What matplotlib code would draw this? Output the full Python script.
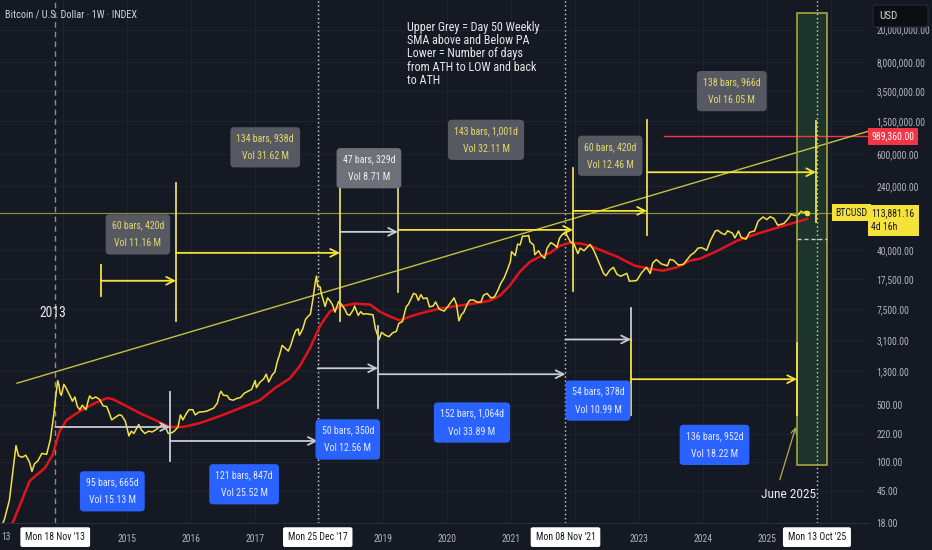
import pandas as pd
import matplotlib
matplotlib.use('Agg')
from matplotlib import pyplot as plt
from matplotlib import font_manager
from matplotlib.patches import Rectangle, FancyBboxPatch
from matplotlib.ticker import NullLocator
from matplotlib.transforms import blended_transform_factory

# weekly close (log scale)
price_dates = [
    '2013-01-01', '2013-02-01', '2013-03-01', '2013-03-25', '2013-04-08', '2013-04-22', '2013-05-13',
    '2013-06-03', '2013-06-24', '2013-07-08', '2013-07-22', '2013-08-12', '2013-09-02', '2013-09-30',
    '2013-10-21', '2013-11-11', '2013-11-18', '2013-12-02', '2013-12-09', '2013-12-16', '2013-12-23',
    '2014-01-06', '2014-01-20', '2014-02-10', '2014-02-24', '2014-03-10', '2014-03-24', '2014-04-07',
    '2014-04-21', '2014-05-12', '2014-05-26', '2014-06-02', '2014-06-16', '2014-07-07', '2014-07-28',
    '2014-08-18', '2014-09-08', '2014-09-22', '2014-10-06', '2014-10-27', '2014-11-17', '2014-12-01',
    '2014-12-22', '2015-01-12', '2015-01-26', '2015-02-09', '2015-02-23', '2015-03-09', '2015-03-23',
    '2015-04-13', '2015-05-04', '2015-05-25', '2015-06-15', '2015-07-06', '2015-07-20', '2015-08-10',
    '2015-08-24', '2015-09-14', '2015-09-28', '2015-10-19', '2015-11-02', '2015-11-16', '2015-12-07',
    '2015-12-21', '2016-01-11', '2016-01-25', '2016-02-15', '2016-03-07', '2016-03-28', '2016-04-18',
    '2016-05-09', '2016-05-30', '2016-06-13', '2016-06-20', '2016-07-04', '2016-07-25', '2016-08-08',
    '2016-08-29', '2016-09-19', '2016-10-10', '2016-10-31', '2016-11-21', '2016-12-12', '2016-12-26',
    '2017-01-02', '2017-01-09', '2017-01-30', '2017-02-20', '2017-03-06', '2017-03-20', '2017-04-10',
    '2017-04-24', '2017-05-08', '2017-05-22', '2017-06-05', '2017-06-26', '2017-07-10', '2017-07-24',
    '2017-08-07', '2017-08-21', '2017-09-04', '2017-09-11', '2017-09-18', '2017-10-02', '2017-10-16',
    '2017-10-30', '2017-11-13', '2017-11-27', '2017-12-11', '2017-12-18', '2017-12-25', '2018-01-08',
    '2018-01-15', '2018-02-05', '2018-02-19', '2018-03-05', '2018-03-19', '2018-04-02', '2018-04-23',
    '2018-05-07', '2018-05-28', '2018-06-11', '2018-06-25', '2018-07-16', '2018-07-23', '2018-08-13',
    '2018-08-27', '2018-09-10', '2018-09-24', '2018-10-15', '2018-11-05', '2018-11-19', '2018-12-10',
    '2018-12-24', '2019-01-14', '2019-02-04', '2019-02-25', '2019-03-18', '2019-04-01', '2019-04-22',
    '2019-05-13', '2019-05-27', '2019-06-17', '2019-06-24', '2019-07-08', '2019-07-22', '2019-08-05',
    '2019-08-19', '2019-09-09', '2019-09-23', '2019-10-14', '2019-10-28', '2019-11-18', '2019-12-16',
    '2020-01-06', '2020-01-27', '2020-02-10', '2020-02-24', '2020-03-09', '2020-03-23', '2020-04-06',
    '2020-04-27', '2020-05-11', '2020-06-01', '2020-06-22', '2020-07-13', '2020-07-27', '2020-08-17',
    '2020-09-07', '2020-09-28', '2020-10-19', '2020-11-02', '2020-11-23', '2020-12-14', '2020-12-28',
    '2021-01-04', '2021-01-25', '2021-02-08', '2021-02-22', '2021-03-08', '2021-03-29', '2021-04-12',
    '2021-04-19', '2021-05-10', '2021-05-17', '2021-06-07', '2021-06-21', '2021-07-12', '2021-07-26',
    '2021-08-16', '2021-09-06', '2021-09-20', '2021-10-04', '2021-10-18', '2021-11-01', '2021-11-08',
    '2021-11-22', '2021-12-06', '2021-12-27', '2022-01-17', '2022-01-31', '2022-02-21', '2022-03-28',
    '2022-04-18', '2022-05-09', '2022-06-13', '2022-06-27', '2022-07-18', '2022-08-08', '2022-08-29',
    '2022-09-19', '2022-10-24', '2022-11-07', '2022-12-19', '2023-01-16', '2023-02-13', '2023-03-06',
    '2023-03-20', '2023-04-10', '2023-05-08', '2023-06-12', '2023-06-26', '2023-07-17', '2023-08-14',
    '2023-09-11', '2023-10-23', '2023-11-13', '2023-12-04', '2023-12-25', '2024-01-22', '2024-02-12',
    '2024-03-11', '2024-03-25', '2024-04-15', '2024-05-06', '2024-05-20', '2024-06-17', '2024-07-01',
    '2024-07-22', '2024-08-05', '2024-09-02', '2024-09-23', '2024-10-21', '2024-11-11', '2024-12-09',
    '2024-12-30', '2025-01-20', '2025-02-10', '2025-03-03', '2025-03-24', '2025-04-07', '2025-04-28',
    '2025-05-19', '2025-06-09', '2025-06-30', '2025-07-14', '2025-07-28', '2025-08-11', '2025-08-18',
]
price_close = [
    13.5, 20, 34, 90, 160, 120, 115,
    122, 100, 77, 95, 105, 128, 125,
    190, 400, 570, 1000, 880, 700, 660,
    900, 800, 650, 560, 630, 480, 440,
    500, 440, 580, 650, 600, 630, 590,
    490, 480, 400, 330, 355, 380, 375,
    320, 210, 240, 225, 255, 290, 250,
    225, 240, 235, 250, 270, 290, 265,
    225, 230, 240, 270, 380, 330, 400,
    440, 440, 380, 410, 415, 420, 440,
    460, 530, 690, 740, 660, 655, 590,
    575, 605, 620, 700, 740, 780, 930,
    1000, 820, 960, 1050, 1200, 960, 1180,
    1270, 1700, 2100, 2700, 2450, 2300, 2700,
    3400, 4100, 4300, 3600, 3800, 4400, 5600,
    6100, 6500, 9800, 16000, 19100, 14200, 14000,
    11500, 8100, 10300, 9500, 8500, 6900, 9300,
    8700, 7500, 6500, 6300, 7400, 8200, 6300,
    7000, 6500, 6600, 6500, 6400, 4300, 3200,
    3900, 3600, 3450, 3850, 4000, 5000, 5300,
    8000, 8700, 10800, 11700, 11400, 9600, 11300,
    10100, 10300, 8000, 8200, 9200, 7500, 7100,
    8100, 9350, 10300, 8600, 5400, 6400, 6900,
    8800, 9700, 9700, 9100, 9200, 11100, 11700,
    10300, 10600, 13000, 15400, 18300, 23800, 29000,
    38000, 34000, 47000, 46000, 59000, 58800, 60000,
    50000, 46000, 34800, 39000, 34500, 31500, 42000,
    49000, 46000, 43000, 55000, 61000, 63000, 65500,
    57000, 50000, 47000, 36000, 42000, 39000, 46500,
    39500, 31000, 20500, 19300, 22500, 24400, 20000,
    19000, 20600, 16500, 16800, 21000, 24500, 20500,
    27500, 30400, 26900, 25500, 30500, 29800, 26000,
    26500, 34500, 37000, 42000, 42500, 39500, 52000,
    68000, 69500, 64000, 61500, 68500, 64000, 56000,
    68000, 57000, 54000, 65500, 68000, 90000, 101000,
    94000, 102000, 96500, 80000, 82500, 84000, 94000,
    109000, 105000, 108000, 119000, 114000, 118000, 113881,
]

# 50 week SMA (red)
sma_dates = [
    '2013-03-15', '2013-05-01', '2013-06-25', '2013-09-20', '2013-11-03', '2013-12-13', '2014-01-22',
    '2014-04-08', '2014-07-02', '2014-09-09', '2014-10-12', '2014-12-20', '2015-03-14', '2015-06-10',
    '2015-09-02', '2015-11-17', '2016-02-21', '2016-06-13', '2016-10-08', '2017-01-30', '2017-04-24',
    '2017-07-20', '2017-09-13', '2017-11-10', '2018-01-08', '2018-03-04', '2018-05-01', '2018-07-24',
    '2018-10-20', '2018-12-13', '2019-02-10', '2019-04-09', '2019-06-03', '2019-07-31', '2019-11-21',
    '2020-03-14', '2020-07-09', '2020-09-02', '2020-10-30', '2020-12-24', '2021-02-21', '2021-04-20',
    '2021-06-13', '2021-08-11', '2021-10-08', '2021-12-02', '2022-01-30', '2022-03-25', '2022-06-21',
    '2022-08-29', '2022-12-09', '2023-03-04', '2023-05-19', '2023-08-08', '2023-10-19', '2023-12-13',
    '2024-03-20', '2024-07-12', '2024-11-03', '2025-03-15', '2025-08-18',
]
sma_vals = [
    17, 30, 59, 85, 123, 241, 329,
    423, 530, 610, 593, 500, 400, 329,
    270, 270, 302, 367, 460, 576, 807,
    1070, 1500, 2480, 4730, 7010, 8070, 8780,
    8530, 7010, 6090, 5450, 6090, 6640, 7630,
    8300, 9030, 9550, 11000, 14550, 21600, 28600,
    32900, 36500, 44800, 48700, 47800, 45000, 37800,
    33000, 25500, 23400, 22200, 24500, 29500, 31000,
    38500, 51500, 62700, 76300, 95500,
]

ytick_vals = [18, 45, 100, 220, 500, 1300, 3100, 7500, 17500, 40000,
              240000, 600000, 1500000, 3500000, 8000000, 20000000]
year_ticks = list(range(2014, 2027))
year_labels = ['', '2015', '2016', '2017', '', '2019', '2020', '2021', '', '2023', '2024', '2025', '']
last_price = 113881.16
target_price = 989360.00

# grey (upper) and blue (lower) range labels: (text, x, y)
grey_labels = [
    ('60 bars, 420d\nVol 11.16 M', 2015.17, 61800),
    ('134 bars, 938d\nVol 31.62 M', 2017.16, 721000),
    ('47 bars, 329d\nVol 8.71 M', 2018.78, 400000),
    ('143 bars, 1,001d\nVol 32.11 M', 2020.61, 891000),
    ('60 bars, 420d\nVol 12.46 M', 2022.55, 568000),
    ('138 bars, 966d\nVol 16.05 M', 2024.45, 3520000),
]
blue_labels = [
    ('95 bars, 665d\nVol 15.13 M', 2014.77, 44),
    ('121 bars, 847d\nVol 25.52 M', 2016.83, 53.7),
    ('50 bars, 350d\nVol 12.56 M', 2018.45, 190),
    ('152 bars, 1,064d\nVol 33.89 M', 2020.39, 306),
    ('54 bars, 378d\nVol 10.99 M', 2022.36, 568),
    ('136 bars, 952d\nVol 18.22 M', 2024.18, 163),
]
marker_dates = ['2013-11-18', '2017-12-25', '2021-11-08', '2025-10-13']
marker_labels = ["Mon 18 Nov '13", "Mon 25 Dec '17", "Mon 08 Nov '21", "Mon 13 Oct '25"]


def yr(s):
    d = pd.Timestamp(s)
    return d.year + (d.dayofyear - 1) / 365.25


# the chart uses a narrow face; look for any condensed font, else shrink text
fs = 0.82
narrow = None
for f in font_manager.fontManager.ttflist:
    if f.style != 'normal' or f.weight not in (400, 'normal', 'regular'):
        continue
    if 'Narrow' in f.name or 'Condensed' in f.name or f.stretch in ('condensed', 'semi-condensed'):
        if narrow is None or 'Liberation' in f.name or 'Roboto' in f.name:
            narrow = f
if narrow is not None:
    plt.rcParams['font.family'] = [narrow.name, 'DejaVu Sans']
    plt.rcParams['font.stretch'] = narrow.stretch
    fs = 1.0
else:
    plt.rcParams['font.family'] = ['Liberation Sans', 'DejaVu Sans']

bg = '#151924'
yellow = '#f5e33a'
white_ln = '#c9ccd4'

fig = plt.figure(figsize=(9.32, 5.5), dpi=100, facecolor=bg)
ax = fig.add_axes([0, 27 / 550, 868 / 932, 523 / 550], facecolor=bg)
ax.set_yscale('log')
ax.set_xlim(2013.0156, 2026.578)
ax.set_ylim(19.3, 4.6e7)

px = [yr(d) for d in price_dates]
sx = [yr(d) for d in sma_dates]

tick_fs = 6.9 * fs
ax.yaxis.tick_right()
ax.set_yticks(ytick_vals)
ax.set_yticklabels([f'{v:,.2f}' for v in ytick_vals])
ax.yaxis.set_minor_locator(NullLocator())
ax.set_xticks(year_ticks)
ax.set_xticklabels(year_labels)
ax.tick_params(axis='y', length=0, pad=6, labelsize=tick_fs, labelcolor='#b2b5be')
ax.tick_params(axis='x', length=0, pad=8, labelsize=tick_fs, labelcolor='#b2b5be')
ax.grid(True, color='#1f2330', lw=0.8)
ax.set_axisbelow(True)
for s in ['top', 'left', 'right']:
    ax.spines[s].set_visible(False)
ax.spines['bottom'].set_color('#2a2e39')
ax.text(0.001, -0.027, '13', transform=ax.transAxes, ha='left', va='center',
        fontsize=tick_fs, color='#b2b5be', clip_on=False)

# green highlight box
ax.add_patch(Rectangle((2025.469, 93), 2025.9375 - 2025.469, 3.19e7 - 93,
                       facecolor='#1c342b', edgecolor='none', zorder=1.5))
ax.add_patch(Rectangle((2025.469, 93), 2025.9375 - 2025.469, 3.19e7 - 93,
                       facecolor='none', edgecolor='#a8a53c', lw=1.2, zorder=6))
ax.plot([2025.469, 2025.9375], [54500, 54500], color='#c9ccd4', lw=1, ls=(0, (3, 2)), zorder=6)

# crosshair / marker lines
ax.axvline(yr(marker_dates[0]), color='#8a8e99', lw=1, ls=(0, (4, 3)), zorder=2)
for d in marker_dates[1:]:
    ax.axvline(yr(d), color='#d6d8de', lw=1, ls=(0, (1, 2)), zorder=2)

# current price and target lines
ax.axhline(last_price, color='#8c8a3c', lw=0.9, zorder=2)
ax.plot([2023.39, 2026.578], [target_price, target_price], color='#f23645', lw=1, zorder=3)

# long trend line
ax.plot([2013.281, 2026.578], [929, 1.13e6], color='#c5c23e', lw=1, zorder=3)

# series
ax.plot(sx, sma_vals, color='#e3131c', lw=1.8, zorder=4)
ax.plot(px, price_close, color=yellow, lw=1.1, zorder=5)
ax.plot(px[-1], price_close[-1], 'o', color=yellow, ms=3, zorder=5)


def arrow(x0, x1, y, color, lw=1.3):
    ax.annotate('', xy=(x1, y), xytext=(x0, y),
                arrowprops=dict(arrowstyle='->', color=color, lw=lw, shrinkA=0, shrinkB=0,
                                mutation_scale=14), zorder=7)


def vline(x, y0, y1, color, lw=1.3):
    ax.plot([x, x], [y0, y1], color=color, lw=lw, zorder=7)


# upper ranges (price vs sma)
vline(2014.594, 11000, 26200, yellow)
arrow(2014.594, 2015.766, 16700, yellow)
vline(2015.766, 5300, 262000, '#e8dd55')
arrow(2015.766, 2018.328, 36700, yellow)
vline(2018.328, 5300, 234000, '#e8dd55')
arrow(2018.328, 2019.234, 66400, white_ln)
vline(2019.234, 12300, 234000, '#d8d27a')
arrow(2019.234, 2021.969, 70200, yellow)
vline(2021.969, 12600, 400000, '#e8dd55')
arrow(2021.969, 2023.125, 120000, yellow)
vline(2023.125, 61000, 1540000, '#e8dd55')
arrow(2023.125, 2025.766, 357000, yellow)
vline(2025.766, 87800, 1500000, '#e8dd55')

# lower ranges (ath -> low -> ath)
arrow(2013.879, 2015.672, 270, white_ln)
vline(2015.672, 104, 721, white_ln)
arrow(2015.672, 2017.98, 182, white_ln)
arrow(2017.98, 2018.922, 1416, white_ln)
vline(2018.922, 460, 4600, white_ln)
arrow(2018.922, 2021.851, 1197, white_ln)
arrow(2021.851, 2022.875, 3190, white_ln)
vline(2022.875, 3100, 7850, white_ln)
vline(2022.875, 378, 3100, yellow)
arrow(2022.875, 2025.469, 1040, yellow)
vline(2025.469, 378, 2860, yellow)

lab_fs = 7.1 * fs
for txt, x, y in grey_labels:
    light = txt.startswith('47')
    ax.text(x, y, txt, ha='center', va='center', fontsize=lab_fs, linespacing=2.0,
            color='#f0f0f0' if light else '#e4da6c',
            bbox=dict(boxstyle='round,pad=0.62,rounding_size=0.4',
                      fc='#6e7179' if light else '#565961', ec='none'), zorder=9)
for txt, x, y in blue_labels:
    ax.text(x, y, txt, ha='center', va='center', fontsize=lab_fs, linespacing=2.0,
            color='#e6ebff',
            bbox=dict(boxstyle='round,pad=0.62,rounding_size=0.4', fc='#2962ff', ec='none'),
            zorder=9)

ax.text(2019.375, 2.55e7,
        'Upper Grey = Day 50 Weekly\nSMA above and Below PA\nLower = Number of days\n'
        'from ATH to LOW and back\nto ATH',
        ha='left', va='top', fontsize=8.7 * fs, linespacing=1.02, color='#e8e8e8', zorder=9)
ax.text(2013.844, 6820, '2013', ha='center', va='center', fontsize=9.8 * fs,
        color='#ececec', zorder=9)
ax.text(2025.33, 40, 'June 2025', ha='center', va='center', fontsize=9.6 * fs,
        color='#ececec', zorder=9)
ax.annotate('', xy=(2025.45, 270), xytext=(2025.20, 61),
            arrowprops=dict(arrowstyle='->', color='#b3ad45', lw=0.9, shrinkA=0, shrinkB=0),
            zorder=9)

# right side price labels
tr = blended_transform_factory(ax.transAxes, ax.transData)
rfs = 7.0 * fs
ax.text(1.004, target_price, '989,360.00', transform=tr, ha='left', va='center',
        fontsize=rfs, color='white', clip_on=False, zorder=10,
        bbox=dict(boxstyle='square,pad=0.35', fc='#f23645', ec='none'))
ax.text(1.004, 128000, '113,881.16\n4d 16h', transform=tr, ha='left', va='top',
        fontsize=rfs, color='#131722', clip_on=False, zorder=10, linespacing=1.4,
        bbox=dict(boxstyle='square,pad=0.4', fc='#f5e23b', ec='none'))
ax.text(0.999, last_price, 'BTCUSD', transform=tr, ha='right', va='center',
        fontsize=rfs, color='#131722', clip_on=False, zorder=10,
        bbox=dict(boxstyle='square,pad=0.35', fc='#f5e23b', ec='none'))

# date labels on the time axis
tb = blended_transform_factory(ax.transData, ax.transAxes)
for d, lab in zip(marker_dates, marker_labels):
    ax.text(yr(d), -0.027, lab, transform=tb, ha='center', va='center', fontsize=rfs,
            color='#131722', clip_on=False, zorder=10,
            bbox=dict(boxstyle='round,pad=0.5,rounding_size=0.2', fc='white', ec='none'))

fig.text(5 / 932, 1 - 15 / 550, 'Bitcoin / U.S. Dollar · 1W · INDEX', ha='left', va='center',
         fontsize=7.4 * fs, color='#d1d4dc')
fig.patches.append(FancyBboxPatch((873 / 932, 1 - 27 / 550), 55 / 932, 22 / 550,
                                  boxstyle='round,pad=0,rounding_size=0.004',
                                  transform=fig.transFigure, fc='#0c0e13', ec='#262a34', lw=0.8))
fig.text(879 / 932, 1 - 16 / 550, 'USD', ha='left', va='center', fontsize=8 * fs,
         color='#d1d4dc')

fig.savefig('out.png', dpi=100, facecolor=bg)
